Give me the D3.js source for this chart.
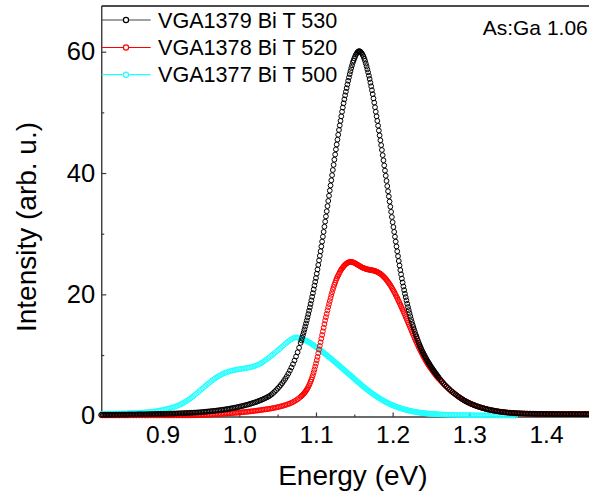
<!DOCTYPE html>
<html>
<head>
<meta charset="utf-8">
<script src="https://cdn.jsdelivr.net/npm/d3@7"></script>
<style>
  html, body { margin: 0; padding: 0; background: #fff; }
  svg { display: block; }
  text { font-family: "Liberation Sans", Arial, sans-serif; fill: #000; }
</style>
</head>
<body>
<svg id="chart" width="589" height="497"></svg>
<script>
// Photon energy sampling (eV): 2 meV steps, 1 meV across the steep flanks
const energy = [
  ...d3.range(130).map(i => +(0.820 + 0.002 * i).toFixed(3)),
  ...d3.range(180).map(i => +(1.080 + 0.001 * i).toFixed(3)),
  ...d3.range(101).map(i => +(1.260 + 0.002 * i).toFixed(3))
];

// PL intensity (arb. u.), VGA1379 Bi T 530
const vga1379 = [
  // 0.820 - 1.078
  0.15,0.16,0.16,0.15,0.15,0.16,0.17,0.16,0.16,0.17,
  0.18,0.17,0.17,0.18,0.19,0.18,0.18,0.19,0.20,0.21,
  0.21,0.20,0.20,0.21,0.22,0.23,0.23,0.22,0.22,0.23,
  0.24,0.25,0.26,0.26,0.27,0.28,0.29,0.30,0.30,0.30,
  0.30,0.31,0.31,0.32,0.33,0.34,0.34,0.35,0.36,0.37,
  0.38,0.39,0.40,0.41,0.42,0.44,0.45,0.46,0.47,0.49,
  0.50,0.51,0.52,0.54,0.55,0.58,0.60,0.63,0.65,0.68,
  0.70,0.73,0.75,0.78,0.81,0.84,0.87,0.90,0.94,0.97,
  1.01,1.05,1.09,1.13,1.18,1.22,1.27,1.32,1.37,1.42,
  1.48,1.54,1.60,1.66,1.73,1.80,1.87,1.94,2.02,2.10,
  2.18,2.27,2.36,2.46,2.56,2.67,2.78,2.90,3.02,3.16,
  3.30,3.50,3.72,3.95,4.20,4.47,4.75,5.05,5.37,5.72,
  6.10,6.50,6.95,7.43,7.95,8.50,9.10,9.75,10.45,11.2,
  // 1.080 - 1.259
  12.0,12.42,12.85,13.3,13.75,14.22,14.7,15.2,15.7,16.22,
  16.75,17.3,17.85,18.42,19.0,19.6,20.2,20.82,21.45,22.07,
  22.7,23.4,24.1,24.85,25.6,26.35,27.1,27.9,28.7,29.5,
  30.3,31.15,32.0,32.85,33.7,34.55,35.4,36.25,37.1,37.95,
  38.8,39.65,40.5,41.35,42.2,43.05,43.9,44.7,45.5,46.3,
  47.1,47.85,48.6,49.35,50.1,50.8,51.5,52.15,52.8,53.4,
  54.0,54.6,55.2,55.75,56.3,56.8,57.3,57.75,58.2,58.55,
  58.9,59.2,59.5,59.7,59.9,60.0,60.1,60.05,60.0,59.85,
  59.7,59.45,59.2,58.85,58.5,58.05,57.6,57.1,56.6,56.05,
  55.5,54.9,54.3,53.65,53.0,52.3,51.6,50.85,50.1,49.35,
  48.6,47.8,47.0,46.2,45.4,44.6,43.8,42.95,42.1,41.25,
  40.4,39.55,38.7,37.85,37.0,36.15,35.3,34.45,33.6,32.75,
  31.9,31.1,30.3,29.5,28.7,27.9,27.1,26.3,25.5,24.75,
  24.0,23.3,22.6,21.95,21.3,20.7,20.1,19.55,19.0,18.45,
  17.9,17.4,16.9,16.4,15.9,15.45,15.0,14.6,14.2,13.8,
  13.4,13.05,12.7,12.35,12.0,11.7,11.4,11.1,10.8,10.55,
  10.3,10.05,9.8,9.58,9.35,9.12,8.9,8.7,8.5,8.3,
  8.1,7.9,7.7,7.52,7.35,7.18,7.0,6.82,6.65,6.48,
  // 1.260 - 1.460
  6.3,6.0,5.7,5.4,5.1,4.85,4.6,4.35,4.1,3.9,
  3.7,3.5,3.3,3.12,2.95,2.78,2.62,2.47,2.33,2.2,
  2.08,1.96,1.85,1.75,1.65,1.56,1.47,1.39,1.31,1.24,
  1.17,1.10,1.04,0.98,0.93,0.88,0.83,0.78,0.74,0.70,
  0.66,0.63,0.60,0.57,0.54,0.51,0.49,0.47,0.45,0.43,
  0.42,0.40,0.39,0.38,0.37,0.36,0.35,0.34,0.33,0.33,
  0.32,0.31,0.31,0.30,0.30,0.29,0.29,0.30,0.29,0.28,
  0.28,0.27,0.27,0.29,0.28,0.26,0.26,0.28,0.27,0.26,
  0.26,0.28,0.27,0.25,0.25,0.27,0.26,0.28,0.27,0.25,
  0.25,0.27,0.26,0.25,0.25,0.27,0.26,0.24,0.25,0.27,
  0.25
];

// PL intensity (arb. u.), VGA1378 Bi T 520
const vga1378 = [
  // 0.820 - 1.078
  0.06,0.05,0.06,0.05,0.06,0.05,0.06,0.05,0.06,0.05,
  0.05,0.06,0.05,0.06,0.05,0.06,0.05,0.06,0.05,0.06,
  0.06,0.05,0.06,0.05,0.06,0.05,0.06,0.05,0.06,0.05,
  0.05,0.06,0.05,0.06,0.05,0.06,0.05,0.06,0.05,0.06,
  0.06,0.05,0.06,0.05,0.06,0.05,0.06,0.05,0.06,0.06,
  0.05,0.06,0.06,0.05,0.06,0.06,0.06,0.06,0.06,0.07,
  0.07,0.075,0.08,0.09,0.10,0.11,0.12,0.13,0.14,0.15,
  0.16,0.175,0.19,0.205,0.22,0.235,0.25,0.265,0.28,0.30,
  0.32,0.34,0.36,0.38,0.40,0.42,0.44,0.46,0.48,0.50,
  0.52,0.545,0.57,0.595,0.62,0.645,0.67,0.70,0.73,0.76,
  0.79,0.825,0.86,0.895,0.93,0.965,1.00,1.04,1.08,1.12,
  1.16,1.20,1.25,1.30,1.35,1.41,1.47,1.53,1.60,1.67,
  1.75,1.83,1.92,2.02,2.13,2.25,2.39,2.54,2.71,2.90,
  // 1.080 - 1.259
  3.11,3.23,3.35,3.48,3.62,3.77,3.93,4.11,4.30,4.52,
  4.75,5.02,5.30,5.62,5.95,6.32,6.70,7.15,7.60,8.10,
  8.6,9.15,9.7,10.3,10.9,11.5,12.1,12.7,13.3,13.9,
  14.5,15.1,15.7,16.25,16.8,17.35,17.9,18.4,18.9,19.4,
  19.9,20.35,20.8,21.2,21.6,21.95,22.3,22.6,22.9,23.15,
  23.4,23.65,23.9,24.1,24.3,24.45,24.6,24.75,24.9,25.0,
  25.1,25.18,25.25,25.3,25.35,25.36,25.35,25.33,25.3,25.25,
  25.2,25.13,25.05,24.98,24.9,24.82,24.75,24.68,24.6,24.52,
  24.45,24.4,24.35,24.3,24.25,24.2,24.15,24.12,24.1,24.07,
  24.05,24.02,24.0,23.97,23.95,23.92,23.9,23.85,23.8,23.75,
  23.7,23.62,23.55,23.48,23.4,23.3,23.2,23.08,22.95,22.82,
  22.7,22.55,22.4,22.22,22.05,21.88,21.7,21.5,21.3,21.08,
  20.85,20.62,20.4,20.15,19.9,19.65,19.4,19.12,18.85,18.58,
  18.3,18.02,17.75,17.48,17.2,16.9,16.6,16.3,16.0,15.7,
  15.4,15.1,14.8,14.5,14.2,13.9,13.6,13.3,13.0,12.7,
  12.4,12.12,11.85,11.58,11.3,11.05,10.8,10.55,10.3,10.05,
  9.8,9.58,9.35,9.12,8.9,8.7,8.5,8.3,8.1,7.92,
  7.75,7.58,7.4,7.22,7.05,6.88,6.72,6.56,6.4,6.25,
  // 1.260 - 1.460
  6.1,5.82,5.55,5.28,5.02,4.78,4.55,4.32,4.1,3.9,
  3.7,3.5,3.32,3.14,2.97,2.8,2.64,2.49,2.35,2.22,
  2.10,1.98,1.87,1.76,1.66,1.57,1.48,1.40,1.32,1.25,
  1.18,1.11,1.05,0.99,0.94,0.89,0.84,0.79,0.75,0.71,
  0.67,0.63,0.60,0.57,0.55,0.52,0.50,0.48,0.46,0.44,
  0.43,0.41,0.40,0.39,0.38,0.37,0.36,0.35,0.34,0.34,
  0.33,0.32,0.32,0.31,0.31,0.30,0.31,0.30,0.30,0.29,
  0.30,0.31,0.29,0.28,0.30,0.31,0.28,0.29,0.30,0.28,
  0.29,0.30,0.28,0.29,0.30,0.29,0.28,0.30,0.29,0.28,
  0.28,0.30,0.30,0.28,0.28,0.29,0.29,0.30,0.28,0.29,
  0.29
];

// PL intensity (arb. u.), VGA1377 Bi T 500 (recorded up to 1.36 eV)
const vga1377 = [
  // 0.820 - 1.078
  0.30,0.305,0.31,0.315,0.32,0.325,0.33,0.335,0.34,0.345,
  0.35,0.355,0.36,0.37,0.38,0.385,0.39,0.40,0.41,0.42,
  0.43,0.44,0.45,0.465,0.48,0.495,0.51,0.525,0.54,0.56,
  0.58,0.60,0.63,0.66,0.69,0.72,0.76,0.80,0.85,0.90,
  0.95,1.00,1.06,1.12,1.18,1.25,1.32,1.40,1.48,1.57,
  1.67,1.78,1.90,2.03,2.17,2.32,2.48,2.65,2.83,3.02,
  3.22,3.43,3.64,3.85,4.07,4.28,4.50,4.71,4.93,5.14,
  5.35,5.55,5.75,5.94,6.12,6.29,6.45,6.60,6.74,6.86,
  6.98,7.08,7.18,7.26,7.34,7.41,7.47,7.53,7.58,7.63,
  7.67,7.71,7.75,7.79,7.83,7.87,7.92,7.97,8.03,8.10,
  8.18,8.28,8.38,8.50,8.64,8.79,8.96,9.14,9.32,9.51,
  9.70,9.90,10.1,10.3,10.52,10.74,10.96,11.18,11.4,11.62,
  11.84,12.05,12.26,12.45,12.6,12.75,12.85,12.9,12.88,12.83,
  // 1.080 - 1.259
  12.76,12.72,12.67,12.62,12.56,12.5,12.44,12.38,12.31,12.24,
  12.17,12.1,12.02,11.94,11.86,11.78,11.69,11.6,11.52,11.43,
  11.34,11.25,11.16,11.06,10.97,10.88,10.78,10.68,10.58,10.48,
  10.38,10.28,10.18,10.08,9.98,9.88,9.77,9.66,9.56,9.46,
  9.35,9.24,9.14,9.04,8.93,8.82,8.72,8.61,8.5,8.39,
  8.28,8.17,8.06,7.95,7.84,7.73,7.62,7.51,7.4,7.29,
  7.18,7.07,6.96,6.86,6.77,6.65,6.54,6.42,6.31,6.2,
  6.08,5.97,5.86,5.75,5.64,5.53,5.42,5.31,5.2,5.1,
  4.99,4.88,4.78,4.68,4.57,4.47,4.37,4.27,4.17,4.08,
  3.98,3.88,3.79,3.7,3.61,3.52,3.43,3.35,3.26,3.18,
  3.09,3.01,2.93,2.85,2.77,2.7,2.62,2.55,2.47,2.4,
  2.33,2.26,2.2,2.13,2.07,2.01,1.95,1.89,1.83,1.78,
  1.72,1.67,1.61,1.56,1.51,1.46,1.42,1.37,1.33,1.28,
  1.24,1.2,1.16,1.12,1.08,1.05,1.01,0.98,0.94,0.91,
  0.88,0.85,0.82,0.79,0.76,0.74,0.71,0.69,0.66,0.64,
  0.61,0.59,0.57,0.55,0.53,0.51,0.49,0.48,0.46,0.45,
  0.43,0.42,0.40,0.39,0.37,0.36,0.35,0.34,0.33,0.32,
  0.31,0.30,0.29,0.28,0.27,0.26,0.25,0.25,0.24,0.23,
  // 1.260 - 1.460
  0.22,0.21,0.20,0.19,0.18,0.17,0.16,0.15,0.15,0.14,
  0.13,0.13,0.12,0.12,0.11,0.11,0.10,0.10,0.10,0.09,
  0.09,0.085,0.08,0.075,0.07,0.07,0.07,0.065,0.06,0.06,
  0.06,0.055,0.05,0.05,0.05,0.05,0.05,0.045,0.04,0.04,
  0.04,0.04,0.04,0.04,0.04,0.035,0.03,0.03,0.03,0.03,
  0.03,
  ...Array(50).fill(null)
];

const seriesNames = ["VGA1379 Bi T 530", "VGA1378 Bi T 520", "VGA1377 Bi T 500"];
const seriesColors = ["#000000", "#ff0000", "#22ffff"];
const seriesValues = [vga1379, vga1378, vga1377];

const xTickValues = [0.9, 1.0, 1.1, 1.2, 1.3, 1.4];
const xMinorTicks = [0.85, 0.95, 1.05, 1.15, 1.25, 1.35, 1.45];
const yTickValues = [0, 20, 40, 60];
const yMinorTicks = [10, 30, 50];

const xTitle = "Energy (eV)";
const yTitle = "Intensity (arb. u.)";
const note = "As:Ga 1.06";

const svg = d3.select("#chart");
svg.append("rect").attr("width", 589).attr("height", 497).attr("fill", "#fff");

const x = d3.scaleLinear().domain([1.0, 1.4]).range([239.3, 546]);
const y = d3.scaleLinear().domain([0, 60]).range([415.7, 51.7]);

const plotLeft = x(0.8206), plotRight = 604, plotTop = 6, plotBottom = 417;
const axisColor = "#3a3a3a";
const fontFam = "'Liberation Sans', Arial, sans-serif";

// bottom axis: inward ticks, labels below
const gx = svg.append("g").attr("transform", `translate(0,${plotBottom})`)
  .call(d3.axisBottom(x).tickValues(xTickValues).tickFormat(d3.format(".1f"))
    .tickSizeInner(-4.5).tickSizeOuter(0).tickPadding(8.6));
gx.select(".domain").remove();
gx.selectAll(".tick line").attr("stroke", axisColor).attr("stroke-width", 1.2);
gx.selectAll(".tick text").style("font-size", "24.5px").attr("fill", "#000").style("font-family", fontFam);

const gxm = svg.append("g").attr("transform", `translate(0,${plotBottom})`)
  .call(d3.axisBottom(x).tickValues(xMinorTicks).tickFormat("").tickSizeInner(-2.5).tickSizeOuter(0));
gxm.select(".domain").remove();
gxm.selectAll(".tick line").attr("stroke", axisColor).attr("stroke-width", 1.2);

// left axis
const gy = svg.append("g").attr("transform", `translate(${plotLeft},0)`)
  .call(d3.axisLeft(y).tickValues(yTickValues).tickFormat(d3.format("d"))
    .tickSizeInner(-4.5).tickSizeOuter(0).tickPadding(6.5));
gy.select(".domain").remove();
gy.selectAll(".tick line").attr("stroke", axisColor).attr("stroke-width", 1.2);
gy.selectAll(".tick text").style("font-size", "25.5px").attr("fill", "#000").style("font-family", fontFam);

const gym = svg.append("g").attr("transform", `translate(${plotLeft},0)`)
  .call(d3.axisLeft(y).tickValues(yMinorTicks).tickFormat("").tickSizeInner(-2.5).tickSizeOuter(0));
gym.select(".domain").remove();
gym.selectAll(".tick line").attr("stroke", axisColor).attr("stroke-width", 1.2);

// frame lines (left, bottom, top)
svg.append("line").attr("x1", plotLeft).attr("x2", plotLeft).attr("y1", plotTop).attr("y2", plotBottom)
  .attr("stroke", axisColor).attr("stroke-width", 1.4);
svg.append("line").attr("x1", plotLeft).attr("x2", plotRight).attr("y1", plotBottom).attr("y2", plotBottom)
  .attr("stroke", axisColor).attr("stroke-width", 1.4);
svg.append("line").attr("x1", plotLeft).attr("x2", plotRight).attr("y1", plotTop).attr("y2", plotTop)
  .attr("stroke", "#111").attr("stroke-width", 1.3);

// scatter series as open circles, first series drawn on top
const drawOrder = [2, 1, 0];
drawOrder.forEach(k => {
  const pts = energy.map((e, i) => ({ e, v: seriesValues[k][i] })).filter(d => d.v != null);
  svg.append("g").selectAll("circle").data(pts).join("circle")
    .attr("cx", d => x(d.e))
    .attr("cy", d => y(d.v))
    .attr("r", 2.4)
    .attr("fill", "none")
    .attr("stroke", seriesColors[k])
    .attr("stroke-width", 1);
});

// legend
const legendY = [20, 47.5, 74.7];
seriesNames.forEach((name, k) => {
  const g = svg.append("g");
  g.append("line").attr("x1", plotLeft).attr("x2", 150.7).attr("y1", legendY[k]).attr("y2", legendY[k])
    .attr("stroke", k === 0 ? "#444" : seriesColors[k]).attr("stroke-width", 1.2);
  g.append("circle").attr("cx", 126).attr("cy", legendY[k]).attr("r", 2.6)
    .attr("fill", "#fff").attr("stroke", seriesColors[k]).attr("stroke-width", 1.2);
  g.append("text").attr("x", 158).attr("y", legendY[k]).attr("dy", "0.36em")
    .style("font-size", "21.6px").text(name);
});

// annotation
svg.append("text").attr("x", 482.7).attr("y", 34.5).style("font-size", "21px").text(note);

// axis titles
svg.append("text").attr("x", (plotLeft + plotRight) / 2).attr("y", 485).attr("text-anchor", "middle")
  .style("font-size", "28px").text(xTitle);
svg.append("text").attr("transform", "translate(36,227) rotate(-90)").attr("text-anchor", "middle")
  .style("font-size", "28px").text(yTitle);
</script>
</body>
</html>
